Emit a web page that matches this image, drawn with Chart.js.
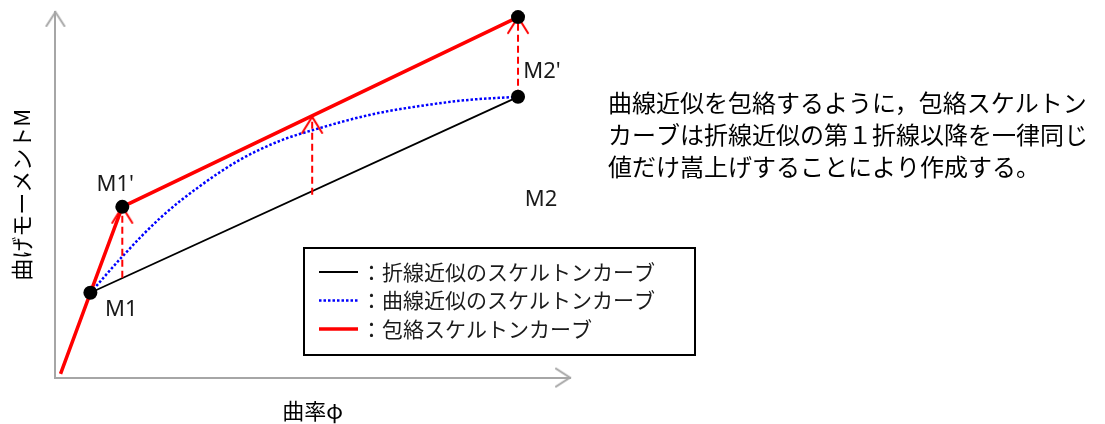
<!DOCTYPE html>
<html>
<head>
<meta charset="utf-8">
<script src="https://cdn.jsdelivr.net/npm/chart.js@4"></script>
<style>
    html, body { margin: 0; padding: 0; background: #fff; }
    #wrap { width: 1105px; height: 424px; }
</style>
</head>
<body>
<div id="wrap"><canvas id="grafico"></canvas></div>
<script>

// curvatura φ (x) e momento M (y), em unidades do esquema (0-100)
const envolventeX = [1, 6.8, 13.0, 89.9];
const envolventeY = [1, 23.2, 46.7, 98.6];

const trilinearX = [6.8, 89.9];
const trilinearY = [23.2, 76.8];

const curvaX = [6.8, 13.0, 20.4, 28.2, 35.9, 43.7, 51.5, 61.2, 70.9, 80.6, 89.9];
const curvaY = [23.2, 33.1, 43.7, 52.5, 59.6, 64.8, 68.3, 71.9, 74.3, 76.0, 76.8];

const pontosNomes = ["M1", "M1'", "M2'", "M2"];
const pontosX = [6.8, 13.0, 89.9, 89.9];
const pontosY = [23.2, 46.7, 98.6, 76.8];

// setas tracejadas (deslocamento da curva)
const setasX = [13.0, 49.9, 89.9];
const setasDe = [27.3, 50.0, 76.8];
const setasAte = [46.7, 71.3, 98.6];

const tituloX = '曲率φ';
const tituloY = '曲げモーメントM';
const legendas = ['：折線近似のスケルトンカーブ', '：曲線近似のスケルトンカーブ', '：包絡スケルトンカーブ'];
const nota = [
    '曲線近似を包絡するように，包絡スケルトン',
    'カーブは折線近似の第１折線以降を一律同じ',
    '値だけ嵩上げすることにより作成する。'
];

const fonteJP = '"Noto Sans CJK JP", "Noto Sans", sans-serif';
const fonteM = '"Noto Sans", "DejaVu Sans", sans-serif';

function pares(xs, ys) {
    return xs.map((x, i) => ({ x: x, y: ys[i] }));
}

// ponta de seta aberta, com a ponta no centro do canvas
function criarSeta(cor, largura, meia, altura) {
    const c = document.createElement('canvas');
    c.width = 2 * meia + 6;
    c.height = 2 * altura + 6;
    const cx = c.width / 2;
    const cy = c.height / 2;
    const g = c.getContext('2d');
    g.strokeStyle = cor;
    g.lineWidth = largura;
    g.lineCap = 'round';
    g.beginPath();
    g.moveTo(cx - meia, cy + altura);
    g.lineTo(cx, cy);
    g.lineTo(cx + meia, cy + altura);
    g.stroke();
    return c;
}

const setaVermelha = criarSeta('#FF0000', 2, 10, 16);
const setaCinza = criarSeta('#A6A6A6', 2, 9, 14);

const rotulosPlugin = {
    id: 'rotulos',
    afterDraw(chart) {
        const ctx = chart.ctx;
        ctx.save();

        // nomes dos pontos
        const deslocamentos = [[31, 17], [-7, -22], [24, 55], [23, 103]];
        const meta = chart.getDatasetMeta(chart.data.datasets.findIndex(d => d.id === 'pontos'));
        ctx.font = '22px ' + fonteM;
        ctx.fillStyle = '#1a1a1a';
        ctx.textAlign = 'center';
        ctx.textBaseline = 'middle';
        meta.data.forEach((p, i) => {
            ctx.fillText(pontosNomes[i], p.x + deslocamentos[i][0], p.y + deslocamentos[i][1]);
        });

        // caixa de legenda
        ctx.fillStyle = '#fff';
        ctx.fillRect(304, 248, 391, 107);
        ctx.lineWidth = 2;
        ctx.strokeStyle = '#000';
        ctx.strokeRect(304, 248, 391, 107);

        const itens = ['trilinear', 'curva', 'envolvente'].map(id => chart.data.datasets.find(d => d.id === id));
        ctx.font = '21px ' + fonteJP;
        ctx.textAlign = 'left';
        itens.forEach((ds, i) => {
            const y = 272 + i * 28.5;
            ctx.beginPath();
            ctx.setLineDash(ds.borderDash || []);
            ctx.strokeStyle = ds.borderColor;
            ctx.lineWidth = ds.borderWidth;
            ctx.moveTo(319, y);
            ctx.lineTo(358, y);
            ctx.stroke();
            ctx.setLineDash([]);
            ctx.fillStyle = '#1a1a1a';
            ctx.fillText(legendas[i], 361, y);
        });

        // nota explicativa
        ctx.font = '24px ' + fonteJP;
        ctx.fillStyle = '#000';
        nota.forEach((linha, i) => {
            ctx.fillText(linha, 608, 103 + i * 32);
        });

        ctx.restore();
    }
};

function criarGrafico() {
    const ctx = document.getElementById('grafico');
    if (!ctx) {
        console.error('Canvas não encontrado!');
        return;
    }

    const setas = setasX.map((x, i) => ({
        id: 'seta' + i,
        data: [{ x: x, y: setasDe[i] }, { x: x, y: setasAte[i] }],
        borderColor: '#FF0000',
        borderWidth: 2,
        borderDash: [7, 4],
        pointStyle: setaVermelha,
        pointRadius: [0, 10],
        clip: false,
        order: 1
    }));

    new Chart(ctx, {
        type: 'line',
        data: {
            datasets: [
                {
                    id: 'pontos',
                    data: pares(pontosX, pontosY),
                    showLine: false,
                    pointRadius: 7,
                    pointBackgroundColor: '#000',
                    pointBorderWidth: 0,
                    clip: false,
                    order: 0
                },
                ...setas,
                {
                    id: 'envolvente',
                    data: pares(envolventeX, envolventeY),
                    borderColor: '#FF0000',
                    borderWidth: 3.5,
                    pointRadius: 0,
                    clip: false,
                    order: 2
                },
                {
                    id: 'curva',
                    data: pares(curvaX, curvaY),
                    borderColor: '#0000FF',
                    borderWidth: 2.5,
                    borderDash: [2.5, 2],
                    cubicInterpolationMode: 'monotone',
                    pointRadius: 0,
                    clip: false,
                    order: 3
                },
                {
                    id: 'trilinear',
                    data: pares(trilinearX, trilinearY),
                    borderColor: '#000',
                    borderWidth: 1.8,
                    pointRadius: 0,
                    clip: false,
                    order: 4
                },
                {
                    id: 'eixos',
                    data: [{ x: 0, y: 100 }, { x: 100, y: 0 }],
                    showLine: false,
                    pointStyle: setaCinza,
                    pointRadius: 10,
                    pointRotation: [0, 90],
                    clip: false,
                    order: 5
                }
            ]
        },
        options: {
            responsive: true,
            maintainAspectRatio: false,
            animation: false,
            events: [],
            layout: { padding: { left: 0, top: 12, right: 535, bottom: 0 } },
            plugins: {
                legend: { display: false },
                tooltip: { enabled: false }
            },
            scales: {
                x: {
                    type: 'linear',
                    min: 0,
                    max: 100,
                    grid: { display: false, drawTicks: false },
                    ticks: { display: false },
                    border: { color: '#A6A6A6', width: 2 },
                    title: {
                        display: true,
                        text: tituloX,
                        color: '#000',
                        font: { size: 22, family: fonteJP },
                        padding: { top: 20, bottom: 0 }
                    }
                },
                y: {
                    type: 'linear',
                    min: 0,
                    max: 100,
                    grid: { display: false, drawTicks: false },
                    ticks: { display: false },
                    border: { color: '#A6A6A6', width: 2 },
                    title: {
                        display: true,
                        text: tituloY,
                        color: '#000',
                        font: { size: 22, family: fonteJP },
                        padding: { top: 8, bottom: 21 }
                    }
                }
            }
        },
        plugins: [rotulosPlugin]
    });
}

document.addEventListener('DOMContentLoaded', criarGrafico);
</script>
</body>
</html>
